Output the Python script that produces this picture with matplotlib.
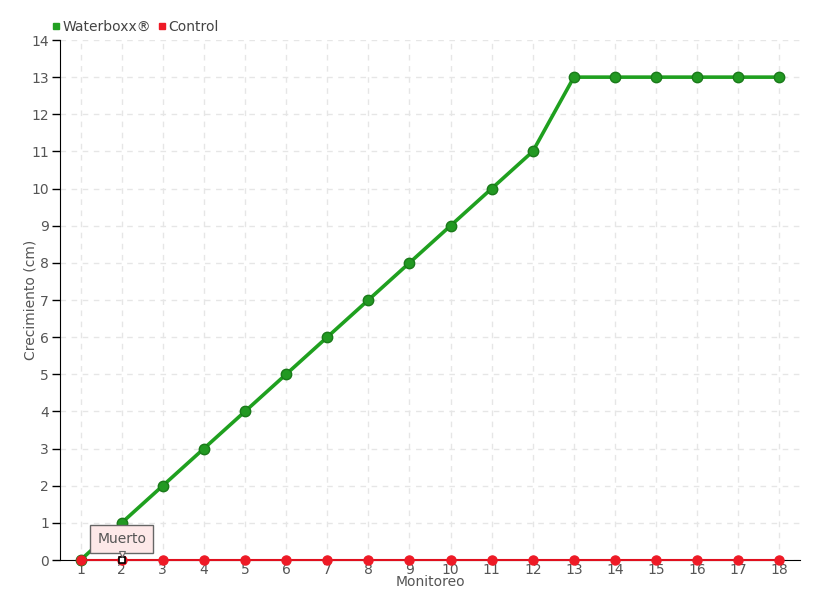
import matplotlib.pyplot as plt
import numpy as np

monitoreo = list(range(1, 19))
waterboxx = [0, 1, 2, 3, 4, 5, 6, 7, 8, 9, 10, 11, 13, 13, 13, 13, 13, 13]
control = [0] * 18

fig = plt.figure(figsize=(8.2, 6), dpi=100)
ax = fig.add_axes([60 / 820, 40 / 600, 740 / 820, 520 / 600])

ax.plot(monitoreo, waterboxx, color='#1fa01f', lw=2.6, zorder=5, clip_on=False,
        marker='o', ms=7.5, mfc='#229922', mec='#1a7a1a', mew=1, label='Waterboxx®')
ax.plot(monitoreo, control, color='#e0101e', lw=1.5, zorder=6, clip_on=False,
        marker='o', ms=6.5, mfc='#ee1a26', mec='#ee1a26', label='Control')
# hovered point
ax.plot([monitoreo[1]], [control[1]], marker='s', ms=5, mfc='white', mec='black',
        mew=1.2, zorder=8, clip_on=False)

ax.set_xlim(0.5, 18.5)
ax.set_ylim(0, 14)
ax.set_xticks(monitoreo)
ax.set_yticks(np.arange(0, 15, 1))
ax.tick_params(axis='x', length=0, pad=2, labelsize=10, labelcolor='#555555')
ax.tick_params(axis='y', length=6, width=1, color='black', labelsize=10,
               labelcolor='#555555', pad=2)
ax.grid(True, ls=(0, (4, 4)), color='#e6e6e6', lw=1)
ax.set_axisbelow(True)
for s in ['top', 'right']:
    ax.spines[s].set_visible(False)
ax.spines['left'].set_color('black')
ax.spines['bottom'].set_color('black')
ax.set_xlabel('Monitoreo', fontsize=10, color='#555555', labelpad=-1)
ax.set_ylabel('Crecimiento (cm)', fontsize=10, color='#555555')
ax.yaxis.set_label_coords(-0.03, 0.5)

# tooltip
ax.annotate('Muerto', xy=(2, 0.12), xytext=(2, 0.575), ha='center', va='center',
            fontsize=10, color='#555555',
            bbox=dict(boxstyle='square,pad=0.5', fc='#fde8e8', ec='#666666', lw=1),
            zorder=9)
ax.plot([2], [0.16], marker='v', ms=5, mfc='#fde8e8', mec='#666666', mew=0.8,
        zorder=9, clip_on=False)

leg = ax.legend(loc='lower left', bbox_to_anchor=(-0.022, 0.995), ncol=2, frameon=False,
                fontsize=10, handlelength=0.5, handletextpad=0.25, columnspacing=0.5,
                borderaxespad=0.2)
for h, c in zip(leg.legend_handles, ['#22a022', '#ee1a26']):
    h.set_linestyle('none')
    h.set_marker('s')
    h.set_markersize(5)
    h.set_markerfacecolor(c)
    h.set_markeredgecolor(c)
for t in leg.get_texts():
    t.set_color('#444444')

fig.savefig('out.png', dpi=100)
